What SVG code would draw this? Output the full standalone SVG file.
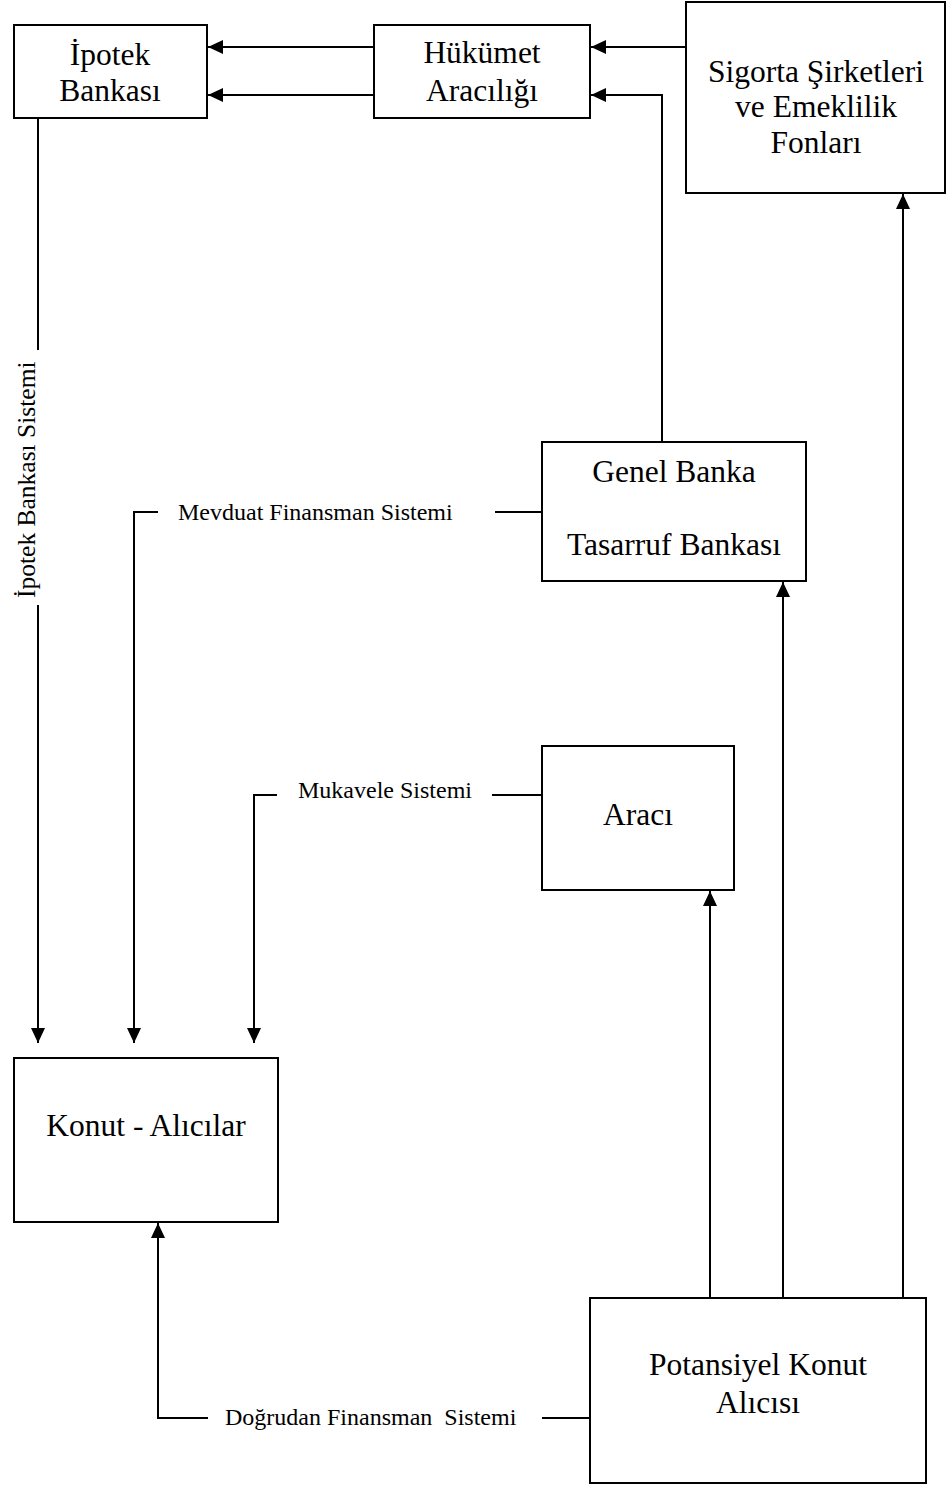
<svg xmlns="http://www.w3.org/2000/svg" width="946" height="1485" viewBox="0 0 946 1485">
<style>
.box{fill:#fff;stroke:#000;stroke-width:2}
.t{font-family:"Liberation Serif","Times New Roman",serif;font-size:31.5px;fill:#000;text-anchor:middle}
.l{font-family:"Liberation Serif","Times New Roman",serif;font-size:24px;fill:#000}
.c{fill:none;stroke:#000;stroke-width:2}
</style>
<defs>
<marker id="ah" markerUnits="userSpaceOnUse" markerWidth="16" markerHeight="14" refX="15" refY="7" orient="auto">
<path d="M0,0 L15,7 L0,14 z" fill="#000"/>
</marker>
</defs>
<rect width="946" height="1485" fill="#fff"/>
<g id="connectors">
<line class="c" x1="374" y1="47" x2="208" y2="47" marker-end="url(#ah)"/>
<line class="c" x1="374" y1="95" x2="208" y2="95" marker-end="url(#ah)"/>
<line class="c" x1="686" y1="47" x2="591" y2="47" marker-end="url(#ah)"/>
<path class="c" d="M662,442 V95 H591" marker-end="url(#ah)"/>
<line class="c" x1="903" y1="1298" x2="903" y2="194" marker-end="url(#ah)"/>
<line class="c" x1="783" y1="1298" x2="783" y2="582" marker-end="url(#ah)"/>
<line class="c" x1="710" y1="1298" x2="710" y2="891" marker-end="url(#ah)"/>
<line class="c" x1="38" y1="118" x2="38" y2="350"/>
<line class="c" x1="38" y1="605" x2="38" y2="1043" marker-end="url(#ah)"/>
<text class="l" style="font-size:25.5px" transform="translate(35,598) rotate(-90)">İpotek Bankası Sistemi</text>
<line class="c" x1="542" y1="512" x2="495" y2="512"/>
<path class="c" d="M158,512 H134 V1043" marker-end="url(#ah)"/>
<text class="l" x="178" y="520">Mevduat Finansman Sistemi</text>
<line class="c" x1="542" y1="795" x2="492" y2="795"/>
<path class="c" d="M277,795 H254 V1043" marker-end="url(#ah)"/>
<text class="l" x="298" y="798">Mukavele Sistemi</text>
<line class="c" x1="590" y1="1418" x2="542" y2="1418"/>
<path class="c" d="M208,1418 H158 V1223" marker-end="url(#ah)"/>
<text class="l" x="225" y="1425" xml:space="preserve">Doğrudan Finansman  Sistemi</text>
</g>
<g id="ipotek">
<rect class="box" x="14" y="25" width="193" height="93"/>
<text class="t" x="110" y="65">İpotek</text>
<text class="t" x="110" y="101">Bankası</text>
</g>
<g id="hukumet">
<rect class="box" x="374" y="25" width="216" height="93"/>
<text class="t" x="482" y="63">Hükümet</text>
<text class="t" x="482" y="101">Aracılığı</text>
</g>
<g id="sigorta">
<rect class="box" x="686" y="2" width="259" height="191"/>
<text class="t" x="816" y="82">Sigorta Şirketleri</text>
<text class="t" x="816" y="117">ve Emeklilik</text>
<text class="t" x="816" y="153">Fonları</text>
</g>
<g id="genel">
<rect class="box" x="542" y="442" width="264" height="139"/>
<text class="t" x="674" y="482">Genel Banka</text>
<text class="t" x="674" y="555">Tasarruf Bankası</text>
</g>
<g id="araci">
<rect class="box" x="542" y="746" width="192" height="144"/>
<text class="t" x="638" y="825">Aracı</text>
</g>
<g id="konut">
<rect class="box" x="14" y="1058" width="264" height="164"/>
<text class="t" x="146" y="1136">Konut - Alıcılar</text>
</g>
<g id="potansiyel">
<rect class="box" x="590" y="1298" width="336" height="185"/>
<text class="t" x="758" y="1375">Potansiyel Konut</text>
<text class="t" x="758" y="1413">Alıcısı</text>
</g>
</svg>
